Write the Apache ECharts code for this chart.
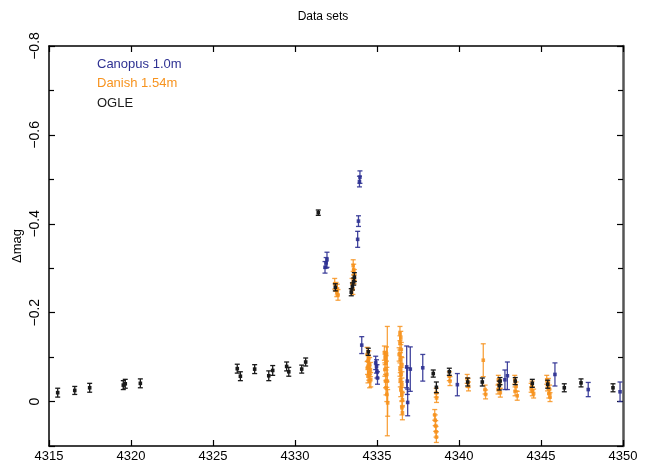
<!DOCTYPE html>
<html>
<head>
    <title>Data sets</title>
    <script src="https://cdn.jsdelivr.net/npm/echarts@6/dist/echarts.min.js"></script>
</head>
<body style="margin:0">
    <div id="chart" style="width: 646px; height: 462px;"></div>
    <script>
    // [day, dmag, err]
    const canopus = [
      [4331.83,-0.302,0.013],[4331.90,-0.312,0.012],[4331.95,-0.319,0.017],
      [4333.82,-0.365,0.018],[4333.87,-0.406,0.012],[4333.93,-0.495,0.012],[4333.96,-0.505,0.014],
      [4334.07,-0.127,0.019],[4334.92,-0.087,0.015],[4334.97,-0.079,0.015],[4335.00,-0.068,0.015],
      [4335.03,-0.053,0.014],[4336.81,-0.078,0.047],[4336.85,-0.046,0.030],[4336.87,0.002,0.030],
      [4337.03,-0.073,0.050],[4337.79,-0.076,0.030],[4339.90,-0.038,0.025],[4342.80,-0.049,0.022],
      [4342.95,-0.058,0.031],[4345.85,-0.061,0.026],[4347.88,-0.027,0.016],[4349.82,-0.022,0.022]
    ];
    const danish = [
      [4332.42,-0.265,0.012],[4332.50,-0.258,0.010],[4332.58,-0.252,0.012],[4332.62,-0.240,0.012],[4332.55,-0.246,0.010],
      [4333.55,-0.306,0.013],[4333.58,-0.297,0.012],[4333.62,-0.285,0.012],[4333.48,-0.265,0.012],[4333.53,-0.253,0.012],[4333.60,-0.275,0.010],
      [4334.40,-0.106,0.016],[4334.50,-0.098,0.016],[4334.45,-0.091,0.015],[4334.55,-0.083,0.016],[4334.42,-0.076,0.015],
      [4334.60,-0.072,0.016],[4334.50,-0.064,0.016],[4334.45,-0.057,0.015],[4334.62,-0.049,0.016],[4334.55,-0.046,0.015],
      [4335.45,-0.109,0.016],[4335.58,-0.107,0.016],[4335.50,-0.098,0.015],[4335.55,-0.087,0.016],[4335.48,-0.072,0.015],
      [4335.60,-0.061,0.016],[4335.52,-0.046,0.015],[4335.63,-0.046,0.123],[4335.55,-0.031,0.016],[4335.60,-0.016,0.016],[4335.65,0.003,0.030],
      [4336.40,-0.153,0.016],[4336.45,-0.143,0.015],[4336.40,-0.132,0.016],[4336.48,-0.117,0.016],[4336.35,-0.106,0.015],
      [4336.43,-0.094,0.016],[4336.52,-0.083,0.016],[4336.40,-0.072,0.015],[4336.48,-0.061,0.016],[4336.42,-0.049,0.016],
      [4336.52,-0.038,0.015],[4336.45,-0.027,0.016],[4336.52,-0.016,0.016],[4336.55,-0.004,0.016],[4336.52,0.014,0.016],[4336.55,0.025,0.016],
      [4338.52,0.030,0.012],[4338.55,0.042,0.012],[4338.58,0.055,0.012],[4338.60,0.068,0.012],[4338.62,0.080,0.012],
      [4338.61,-0.020,0.010],[4338.63,-0.008,0.010],[4339.41,-0.057,0.010],[4339.45,-0.046,0.010],
      [4340.50,-0.051,0.010],[4340.55,-0.042,0.010],[4340.58,-0.034,0.010],
      [4341.48,-0.093,0.037],[4341.59,-0.027,0.010],[4341.62,-0.016,0.010],
      [4342.40,-0.049,0.010],[4342.48,-0.039,0.010],[4342.38,-0.027,0.010],[4342.52,-0.020,0.010],
      [4343.40,-0.049,0.010],[4343.48,-0.034,0.010],[4343.42,-0.023,0.010],[4343.55,-0.013,0.010],
      [4344.40,-0.031,0.010],[4344.47,-0.023,0.010],[4344.55,-0.018,0.010],[4344.45,-0.036,0.010],
      [4345.35,-0.049,0.010],[4345.45,-0.042,0.010],[4345.40,-0.034,0.010],[4345.52,-0.027,0.010],[4345.48,-0.018,0.010],[4345.55,-0.010,0.010]
    ];
    const ogle = [
      [4315.53,-0.020,0.010],[4316.57,-0.025,0.009],[4317.48,-0.031,0.010],[4319.53,-0.037,0.010],
      [4319.65,-0.040,0.010],[4320.57,-0.041,0.010],[4326.48,-0.074,0.010],[4326.67,-0.057,0.010],
      [4327.54,-0.073,0.010],[4328.40,-0.058,0.011],[4328.64,-0.070,0.011],[4329.49,-0.079,0.010],
      [4329.62,-0.067,0.010],[4330.41,-0.073,0.009],[4330.65,-0.089,0.009],[4331.42,-0.425,0.006],
      [4332.46,-0.257,0.008],[4333.43,-0.246,0.008],[4333.50,-0.259,0.008],[4333.58,-0.270,0.008],
      [4333.62,-0.280,0.010],[4334.47,-0.112,0.008],[4338.43,-0.063,0.008],[4338.62,-0.032,0.012],
      [4339.41,-0.067,0.008],[4340.53,-0.044,0.009],[4341.42,-0.044,0.009],[4342.46,-0.036,0.010],
      [4342.50,-0.046,0.008],[4343.43,-0.046,0.008],[4344.47,-0.041,0.009],[4345.41,-0.039,0.009],
      [4346.42,-0.031,0.009],[4347.44,-0.042,0.009],[4349.39,-0.031,0.009]
    ];
    const names = ['Canopus 1.0m', 'Danish 1.54m', 'OGLE'];
    const colors = ['#2e3192', '#f7931e', '#1a1a1a'];

    const font = 'Liberation Sans';

    function errItem(color, opacity) {
      return function (params, api) {
        const x = api.value(0), y = api.value(1), e = api.value(2);
        const p = api.coord([x, y]);
        const t = api.coord([x, y - e]);
        const b = api.coord([x, y + e]);
        const st = { stroke: color, lineWidth: 1.3, opacity: opacity };
        return {
          type: 'group',
          children: [
            { type: 'line', shape: { x1: p[0], y1: t[1], x2: p[0], y2: b[1] }, style: st },
            { type: 'line', shape: { x1: p[0] - 2.5, y1: t[1], x2: p[0] + 2.5, y2: t[1] }, style: st },
            { type: 'line', shape: { x1: p[0] - 2.5, y1: b[1], x2: p[0] + 2.5, y2: b[1] }, style: st },
            { type: 'rect', shape: { x: p[0] - 1.8, y: p[1] - 1.8, width: 3.6, height: 3.6 },
              style: { fill: color, opacity: opacity } }
          ]
        };
      };
    }

    function yFmt(v) {
      if (Math.abs(v) < 1e-9) return '0';
      if (v > 0.05) return '';
      return '\u2212' + Math.abs(v).toFixed(1);
    }

    const option = {
      animation: false,
      backgroundColor: '#fff',
      title: {
        text: 'Data sets', left: 'center', top: 1,
        textStyle: { fontFamily: font, fontSize: 12, fontWeight: 'normal', color: '#000' }
      },
      legend: {
        left: 87, top: 48, orient: 'vertical', itemGap: -3,
        icon: 'none', itemWidth: 0, itemHeight: 10,
        selectedMode: false,
        data: names.map((n, i) => ({ name: n, textStyle: { color: colors[i] } })),
        textStyle: { fontFamily: font, fontSize: 13, lineHeight: 16 }
      },
      grid: { left: 49, right: 23, top: 46, bottom: 16, outerBoundsMode: 'none', containLabel: false },
      xAxis: [{
        type: 'value', min: 4315, max: 4350, interval: 5,
        axisLine: { onZero: false, lineStyle: { color: '#000', width: 1.5 } },
        axisTick: { inside: true, length: 6, lineStyle: { color: '#000', width: 1.2 } },
        axisLabel: { fontFamily: font, fontSize: 13, color: '#000', margin: -1, formatter: v => String(v) },
        splitLine: { show: false }
      }, {
        type: 'value', min: 4315, max: 4350, interval: 5, position: 'top',
        axisLine: { onZero: false, lineStyle: { color: '#000', width: 1.5 } },
        axisTick: { inside: true, length: 6, lineStyle: { color: '#000', width: 1.2 } },
        axisLabel: { show: false },
        splitLine: { show: false }
      }],
      yAxis: [{
        type: 'value', min: -0.8, max: 0.1, interval: 0.2, inverse: true,
        name: '\u0394mag', nameLocation: 'middle', nameGap: 20, nameRotate: 90, nameMoveOverlap: false,
        nameTextStyle: { fontFamily: font, fontSize: 13, color: '#000' },
        axisLine: { onZero: false, lineStyle: { color: '#000', width: 1.5 } },
        axisTick: { inside: true, length: 6, lineStyle: { color: '#000', width: 1.2 } },
        minorTick: { show: true, splitNumber: 2, length: 5, lineStyle: { color: '#000', width: 1.2 } },
        axisLabel: { fontFamily: font, fontSize: 14, color: '#000', rotate: 90, margin: 2, formatter: yFmt },
        splitLine: { show: false }
      }, {
        type: 'value', min: -0.8, max: 0.1, interval: 0.2, inverse: true, position: 'right',
        axisLine: { onZero: false, lineStyle: { color: '#555', width: 2.5 } },
        axisTick: { inside: true, length: 6, lineStyle: { color: '#000', width: 1.2 } },
        minorTick: { show: true, splitNumber: 2, length: 5, lineStyle: { color: '#000', width: 1.2 } },
        axisLabel: { show: false },
        splitLine: { show: false }
      }],
      series: [
        { name: names[1], type: 'custom', clip: true, renderItem: errItem(colors[1], 0.85),
          encode: { x: 0, y: 1 }, data: danish, z: 1 },
        { name: names[0], type: 'custom', clip: true, renderItem: errItem(colors[0], 0.9),
          encode: { x: 0, y: 1 }, data: canopus, z: 2 },
        { name: names[2], type: 'custom', clip: true, renderItem: errItem(colors[2], 1),
          encode: { x: 0, y: 1 }, data: ogle, z: 3 }
      ]
    };

    const myChart = echarts.init(document.getElementById('chart'));
    myChart.setOption(option);
    </script>
</body>
</html>
